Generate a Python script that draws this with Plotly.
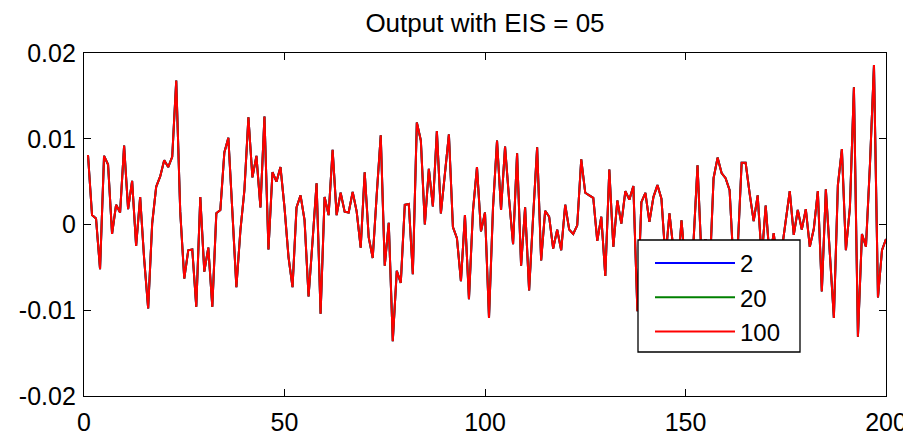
import plotly.graph_objects as go

# ---- data ----
sample_index = list(range(1, 201))

output_values = [
    0.0081, 0.0011, 0.0007, -0.0052, 0.0080, 0.0070, -0.0011, 0.0023, 0.0014, 0.0092,
    0.0018, 0.0051, -0.0025, 0.0032, -0.0040, -0.0098, 0.0001, 0.0044, 0.0056, 0.0075,
    0.0067, 0.0079, 0.0168, 0.0015, -0.0063, -0.0030, -0.0029, -0.0096, 0.0032, -0.0055,
    -0.0027, -0.0096, 0.0013, 0.0017, 0.0084, 0.0101, 0.0015, -0.0073, -0.0007, 0.0040,
    0.0125, 0.0055, 0.0080, 0.0020, 0.0126, -0.0029, 0.0061, 0.0050, 0.0067, 0.0020,
    -0.0038, -0.0073, 0.0020, 0.0034, 0.0005, -0.0084, -0.0019, 0.0048, -0.0104, 0.0032,
    0.0011, 0.0087, 0.0011, 0.0037, 0.0015, 0.0014, 0.0038, 0.0015, -0.0027, 0.0061,
    -0.0015, -0.0039, 0.0035, 0.0104, -0.0048, 0.0002, -0.0136, -0.0054, -0.0068, 0.0023,
    0.0024, -0.0058, 0.0119, 0.0098, 0.0000, 0.0065, 0.0021, 0.0109, 0.0013, 0.0060,
    0.0105, -0.0003, -0.0016, -0.0066, 0.0011, -0.0087, 0.0016, 0.0067, -0.0008, 0.0014,
    -0.0109, 0.0020, 0.0098, 0.0017, 0.0091, 0.0030, -0.0023, 0.0083, -0.0048, 0.0020,
    -0.0077, 0.0009, 0.0090, -0.0042, 0.0016, 0.0009, -0.0028, -0.0006, -0.0030, 0.0023,
    -0.0006, -0.0011, -0.0001, 0.0076, 0.0037, 0.0034, 0.0031, -0.0019, 0.0009, -0.0060,
    0.0064, -0.0026, 0.0028, 0.0001, 0.0039, 0.0029, 0.0045, -0.0101, 0.0026, 0.0037,
    0.0003, 0.0032, 0.0046, 0.0030, -0.0040, 0.0013, -0.0030, -0.0060, 0.0005, -0.0050,
    -0.0080, -0.0020, 0.0069, -0.0040, -0.0017, -0.0060, 0.0054, 0.0078, 0.0060, 0.0054,
    0.0040, -0.0050, -0.0030, 0.0072, 0.0072, 0.0036, 0.0004, 0.0034, -0.0040, 0.0022,
    -0.0040, -0.0010, -0.0050, -0.0030, 0.0005, 0.0039, -0.0012, 0.0017, -0.0006, 0.0018,
    -0.0026, -0.0005, 0.0039, -0.0078, 0.0041, -0.0030, -0.0109, 0.0046, 0.0088, -0.0030,
    0.0020, 0.0160, -0.0131, -0.0011, -0.0026, 0.0070, 0.0186, -0.0085, -0.0030, -0.0017,
]

series_names = ["2", "20", "100"]
series_colors = ["#0000ff", "#008000", "#ff0000"]

x_tick_values = [0, 50, 100, 150, 200]
x_tick_labels = ["0", "50", "100", "150", "200"]
y_tick_values = [-0.02, -0.01, 0, 0.01, 0.02]
y_tick_labels = ["-0.02", "-0.01", "0", "0.01", "0.02"]

title_text = "Output with EIS = 05"

# ---- geometry (page has an 8px body margin, so the figure is sized to fit) ----
W, H = 903, 430
L, R, T, B = 76, 25, 45, 42
PW, PH = W - L - R, H - T - B

FONT = "Liberation Sans, Arial, Helvetica, sans-serif"
fig = go.Figure()
for name, color in zip(series_names, series_colors):
    fig.add_trace(go.Scatter(
        x=sample_index, y=output_values, mode="lines", name=name,
        line=dict(color=color, width=2),
    ))

axis_common = dict(
    showline=True, mirror="ticks", linecolor="black", linewidth=1.3,
    ticks="inside", ticklen=7, tickwidth=1, tickcolor="black",
    showgrid=False, zeroline=False, automargin=False,
    tickfont=dict(family=FONT, size=25, color="black"),
)

# legend box (page px: x 638-800, y 240-352) -> figure px minus 8
bx0, bx1, by0, by1 = 630, 792, 232, 344
fig.add_shape(
    type="rect", xref="paper", yref="paper", layer="above",
    x0=(bx0 - L) / PW, x1=(bx1 - L) / PW,
    y0=(T + PH - by1) / PH, y1=(T + PH - by0) / PH,
    fillcolor="white", line=dict(color="black", width=1.3),
)

fig.update_layout(
    width=W, height=H,
    margin=dict(l=L, r=R, t=T, b=B, autoexpand=False),
    paper_bgcolor="white", plot_bgcolor="white",
    title=dict(text=title_text, x=477 / W, xanchor="center", xref="container",
               y=1 - 15 / H, yanchor="middle", yref="container",
               font=dict(family=FONT, size=26, color="black")),
    xaxis=dict(range=[0, 200], tickvals=x_tick_values, ticktext=x_tick_labels,
               ticklabelstandoff=4, **axis_common),
    yaxis=dict(range=[-0.02, 0.02], tickvals=y_tick_values, ticktext=y_tick_labels,
               ticklabelstandoff=2, **axis_common),
    legend=dict(
        x=(642 - L) / PW, y=(T + PH - 233) / PH, xanchor="left", yanchor="top",
        bgcolor="rgba(0,0,0,0)", borderwidth=0,
        font=dict(family=FONT, size=24, color="black"),
        itemwidth=80, tracegroupgap=0,
    ),
    showlegend=True,
)

fig.write_html("out.html")
